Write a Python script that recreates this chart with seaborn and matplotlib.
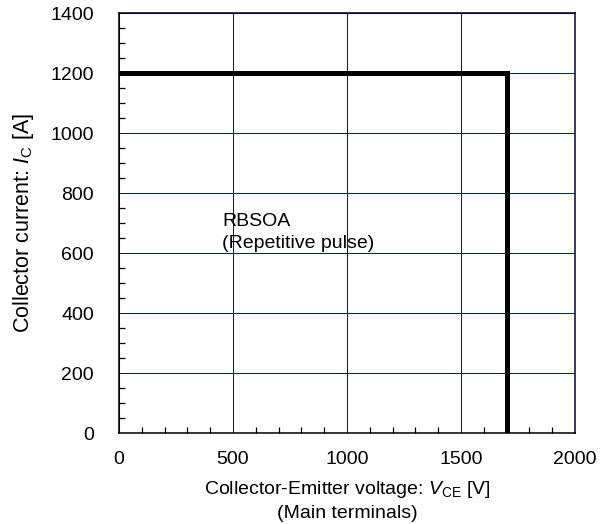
import matplotlib
matplotlib.use("Agg")
import matplotlib.pyplot as plt
from matplotlib.ticker import MultipleLocator
import seaborn as sns
import pandas as pd

# RBSOA boundary (repetitive pulse)
vce_v = [0, 1700, 1700]
ic_a = [1200, 1200, 0]

x_ticks = [0, 500, 1000, 1500, 2000]
y_ticks = [0, 200, 400, 600, 800, 1000, 1200, 1400]

sns.set_theme(style="white")
plt.rcParams["font.family"] = ["Liberation Sans", "DejaVu Sans"]
plt.rcParams["mathtext.fontset"] = "custom"
plt.rcParams["mathtext.rm"] = "Liberation Sans"
plt.rcParams["mathtext.it"] = "Liberation Sans:italic"
for key in ["text.color", "axes.labelcolor", "xtick.color", "ytick.color"]:
    plt.rcParams[key] = "black"

FS = 14

fig = plt.figure(figsize=(6.03, 5.24), dpi=100)
ax = fig.add_axes([119 / 603, 1 - 433 / 524, 456 / 603, 420 / 524])

df = pd.DataFrame({"VCE": vce_v, "IC": ic_a})
sns.lineplot(data=df, x="VCE", y="IC", sort=False, estimator=None,
             color="black", linewidth=3.6, ax=ax, zorder=3,
             solid_joinstyle="miter")

ax.set_xlim(0, 2000)
ax.set_ylim(0, 1400)
ax.set_xticks(x_ticks)
ax.set_yticks(y_ticks)
ax.xaxis.set_minor_locator(MultipleLocator(100))
ax.yaxis.set_minor_locator(MultipleLocator(50))
ax.tick_params(which="both", direction="in", labelsize=FS)
ax.tick_params(axis="y", which="major", length=0, pad=18)
ax.tick_params(axis="x", which="major", length=0, pad=13)
ax.tick_params(which="minor", length=4, width=0.9, color="black")
ax.tick_params(axis="x", which="minor", top=False, bottom=True)
ax.tick_params(axis="y", which="minor", left=True, right=False)
ax.grid(True, which="major", color="#0000ff", linewidth=0.75, alpha=1.0)
ax.grid(False, which="minor")

for side in ["left", "bottom", "top"]:
    ax.spines[side].set_color("black")
    ax.spines[side].set_linewidth(1.1)
ax.spines["right"].set_color("#333388")
ax.spines["right"].set_linewidth(1.4)

ax.set_xlabel("Collector-Emitter voltage: $V_{\\mathrm{CE}}$ [V]\n(Main terminals)",
              fontsize=FS, labelpad=8, linespacing=1.4)
ax.set_ylabel("Collector current: $I_{\\mathrm{C}}$ [A]", fontsize=15.5, labelpad=10)

ax.text(452, 617, "RBSOA\n(Repetitive pulse)", fontsize=FS,
        ha="left", va="baseline", linespacing=1.4)

fig.savefig("out.png", dpi=100)
